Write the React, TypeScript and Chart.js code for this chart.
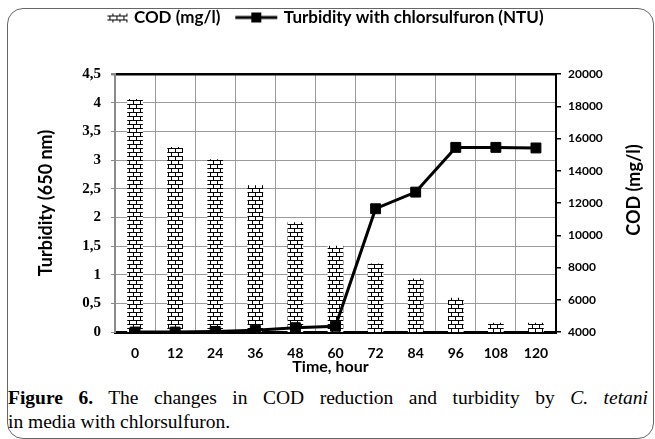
import React, { useEffect, useRef } from "react";
import { Chart, registerables } from "chart.js";

Chart.register(...registerables);

const hours = ["0", "12", "24", "36", "48", "60", "72", "84", "96", "108", "120"];
const codValues = [18430, 15450, 14700, 13080, 10780, 9330, 8220, 7290, 6110, 4560, 4560];
const turbidityValues = [0, 0, 0.01, 0.03, 0.075, 0.1, 2.15, 2.44, 3.22, 3.22, 3.21];
const turbidityRange = [0, 4.5, 0.5];
const codRange = [4000, 20000, 2000];

const codLabel = "COD (mg/l)";
const turbidityLabel = "Turbidity with chlorsulfuron (NTU)";
const xTitle = "Time, hour";
const leftTitle = "Turbidity (650 nm)";

const W = 655;
const H = 380;
const SANS = "Lato, sans-serif";

function makeBrickTile(): HTMLCanvasElement {
  const c = document.createElement("canvas");
  c.width = 14;
  c.height = 8;
  const g = c.getContext("2d")!;
  g.fillStyle = "#fff";
  g.fillRect(0, 0, 14, 8);
  g.strokeStyle = "#000";
  g.lineWidth = 1;
  g.beginPath();
  g.moveTo(0, 0.5); g.lineTo(14, 0.5);
  g.moveTo(0, 4.5); g.lineTo(14, 4.5);
  g.moveTo(3.5, 0); g.lineTo(3.5, 4.5);
  g.moveTo(10.5, 0); g.lineTo(10.5, 4.5);
  g.moveTo(0.5, 4.5); g.lineTo(0.5, 8);
  g.moveTo(7.5, 4.5); g.lineTo(7.5, 8);
  g.stroke();
  return c;
}

function makeCodSwatch(tile: HTMLCanvasElement): HTMLCanvasElement {
  const c = document.createElement("canvas");
  c.width = 48;
  c.height = 12;
  const g = c.getContext("2d")!;
  const p = g.createPattern(tile, "repeat")!;
  g.fillStyle = p;
  g.fillRect(26, 2, 20, 9);
  return c;
}

function makeLineSwatch(): HTMLCanvasElement {
  const c = document.createElement("canvas");
  c.width = 48;
  c.height = 14;
  const g = c.getContext("2d")!;
  g.strokeStyle = "#000";
  g.lineWidth = 3;
  g.beginPath();
  g.moveTo(4, 7);
  g.lineTo(46, 7);
  g.stroke();
  g.fillStyle = "#000";
  g.fillRect(20, 2, 10, 10);
  return c;
}

const legendHeightPlugin = {
  id: "legendHeight",
  afterInit(chart: any) {
    const legend = chart.legend;
    if (!legend) return;
    const orig = legend.fit;
    legend.fit = function () {
      orig.call(this);
      this.height = 80;
    };
  },
};

const titlesPlugin = {
  id: "sideTitles",
  afterDraw(chart: any) {
    const { ctx, chartArea } = chart;
    ctx.save();
    ctx.fillStyle = "#000";
    ctx.textAlign = "center";
    ctx.textBaseline = "middle";
    // right axis title, reading bottom-to-top
    ctx.save();
    ctx.translate(634, (chartArea.top + chartArea.bottom) / 2 - 13);
    ctx.rotate(-Math.PI / 2);
    ctx.font = `bold 18px ${SANS}`;
    ctx.fillText(codLabel, 0, 0);
    ctx.restore();
    // x axis title
    ctx.font = `bold 16px ${SANS}`;
    ctx.fillText(xTitle, (chartArea.left + chartArea.right) / 2 - 5, 367);
    ctx.restore();
  },
};

export default function App() {
  const ref = useRef<HTMLCanvasElement>(null);

  useEffect(() => {
    if (!ref.current) return;
    const tile = makeBrickTile();
    const ctx2 = ref.current.getContext("2d")!;
    const brick = ctx2.createPattern(tile, "repeat")!;
    const codSwatch = makeCodSwatch(tile);
    const lineSwatch = makeLineSwatch();

    const chart = new Chart(ref.current, {
      type: "bar",
      data: {
        labels: hours,
        datasets: [
          {
            type: "bar",
            label: codLabel,
            data: codValues,
            yAxisID: "y1",
            backgroundColor: brick as any,
            borderWidth: 0,
            barThickness: 15,
            order: 1,
          },
          {
            type: "line",
            label: turbidityLabel,
            data: turbidityValues,
            yAxisID: "y",
            borderColor: "#000",
            backgroundColor: "#000",
            borderWidth: 3,
            pointStyle: "rect",
            pointRadius: 7,
            pointBorderWidth: 1,
            tension: 0,
            order: 0,
          } as any,
        ],
      },
      options: {
        responsive: false,
        animation: false,
        layout: { padding: { top: -6, left: 0, right: 26, bottom: 0 } },
        plugins: {
          tooltip: { enabled: false },
          legend: {
            position: "top",
            labels: {
              usePointStyle: true,
              pointStyleWidth: 40,
              padding: 15,
              color: "#000",
              font: { family: SANS, size: 17, weight: "bold" },
              generateLabels: () => [
                {
                  text: codLabel,
                  pointStyle: codSwatch as any,
                  datasetIndex: 0,
                  fillStyle: "#000",
                  strokeStyle: "#000",
                  lineWidth: 0,
                  fontColor: "#000",
                  hidden: false,
                },
                {
                  text: turbidityLabel,
                  pointStyle: lineSwatch as any,
                  datasetIndex: 1,
                  fillStyle: "#000",
                  strokeStyle: "#000",
                  lineWidth: 0,
                  fontColor: "#000",
                  hidden: false,
                },
              ],
            },
          },
        },
        scales: {
          x: {
            afterFit: (s: any) => {
              s.height = H - 332;
            },
            grid: { color: "#9a9a9a", lineWidth: 1, drawTicks: false },
            border: { color: "#000", width: 3 },
            ticks: {
              color: "#000",
              padding: 13,
              font: { family: SANS, size: 14, weight: "bold" },
            },
          },
          y: {
            position: "left",
            min: turbidityRange[0],
            max: turbidityRange[1],
            afterFit: (s: any) => {
              s.width = 115;
            },
            grid: {
              color: (c: any) => (c.tick && c.tick.value === turbidityRange[1] ? "#000" : "#9a9a9a"),
              lineWidth: (c: any) => (c.tick && c.tick.value === turbidityRange[1] ? 2.5 : 1),
              tickLength: 4,
              tickColor: "#888",
            },
            border: { color: "#8a8a8a", width: 2 },
            ticks: {
              stepSize: turbidityRange[2],
              color: "#000",
              padding: 10,
              font: { family: "Liberation Serif", size: 15, weight: "bold" },
              callback: (v: any) => String(v).replace(".", ","),
            },
            title: {
              display: true,
              text: leftTitle,
              color: "#000",
              font: { family: SANS, size: 18, weight: "bold" },
              padding: { top: 35, bottom: 0 },
            },
          },
          y1: {
            position: "right",
            min: codRange[0],
            max: codRange[1],
            afterFit: (s: any) => {
              s.width = W - 26 - 556;
            },
            grid: { drawOnChartArea: false, color: "#000", tickLength: 5, lineWidth: 1.5 },
            border: { color: "#000", width: 2 },
            ticks: {
              stepSize: codRange[2],
              color: "#000",
              padding: 7,
              font: { family: SANS, size: 12, weight: "bold" },
              callback: (v: any) => String(v),
            },
          },
        },
      },
      plugins: [legendHeightPlugin, titlesPlugin],
    });
    return () => chart.destroy();
  }, []);

  const serif = '"Liberation Serif", "Times New Roman", serif';

  return (
    <div
      style={{
        position: "absolute",
        left: 0,
        top: 0,
        width: W,
        height: 439,
        overflow: "hidden",
        background: "#fff",
      }}
    >
      <div
        style={{
          position: "absolute",
          left: 7,
          top: 8,
          width: 645,
          height: 429,
          border: "1px solid #666",
          borderRadius: 16,
        }}
      />
      <canvas ref={ref} width={W} height={H} style={{ position: "absolute", left: 0, top: 0, width: W, height: H }} />
      <div
        style={{
          position: "absolute",
          left: 8,
          top: 386,
          width: 640,
          fontFamily: serif,
          fontSize: 19.5,
          lineHeight: "24px",
          color: "#000",
        }}
      >
        <div style={{ whiteSpace: "nowrap", textAlign: "justify", textAlignLast: "justify" as any }}>
          <b>Figure 6.</b> The changes in COD reduction and turbidity by <i>C. tetani</i>
        </div>
        <div style={{ whiteSpace: "nowrap" }}>in media with chlorsulfuron.</div>
      </div>
    </div>
  );
}
